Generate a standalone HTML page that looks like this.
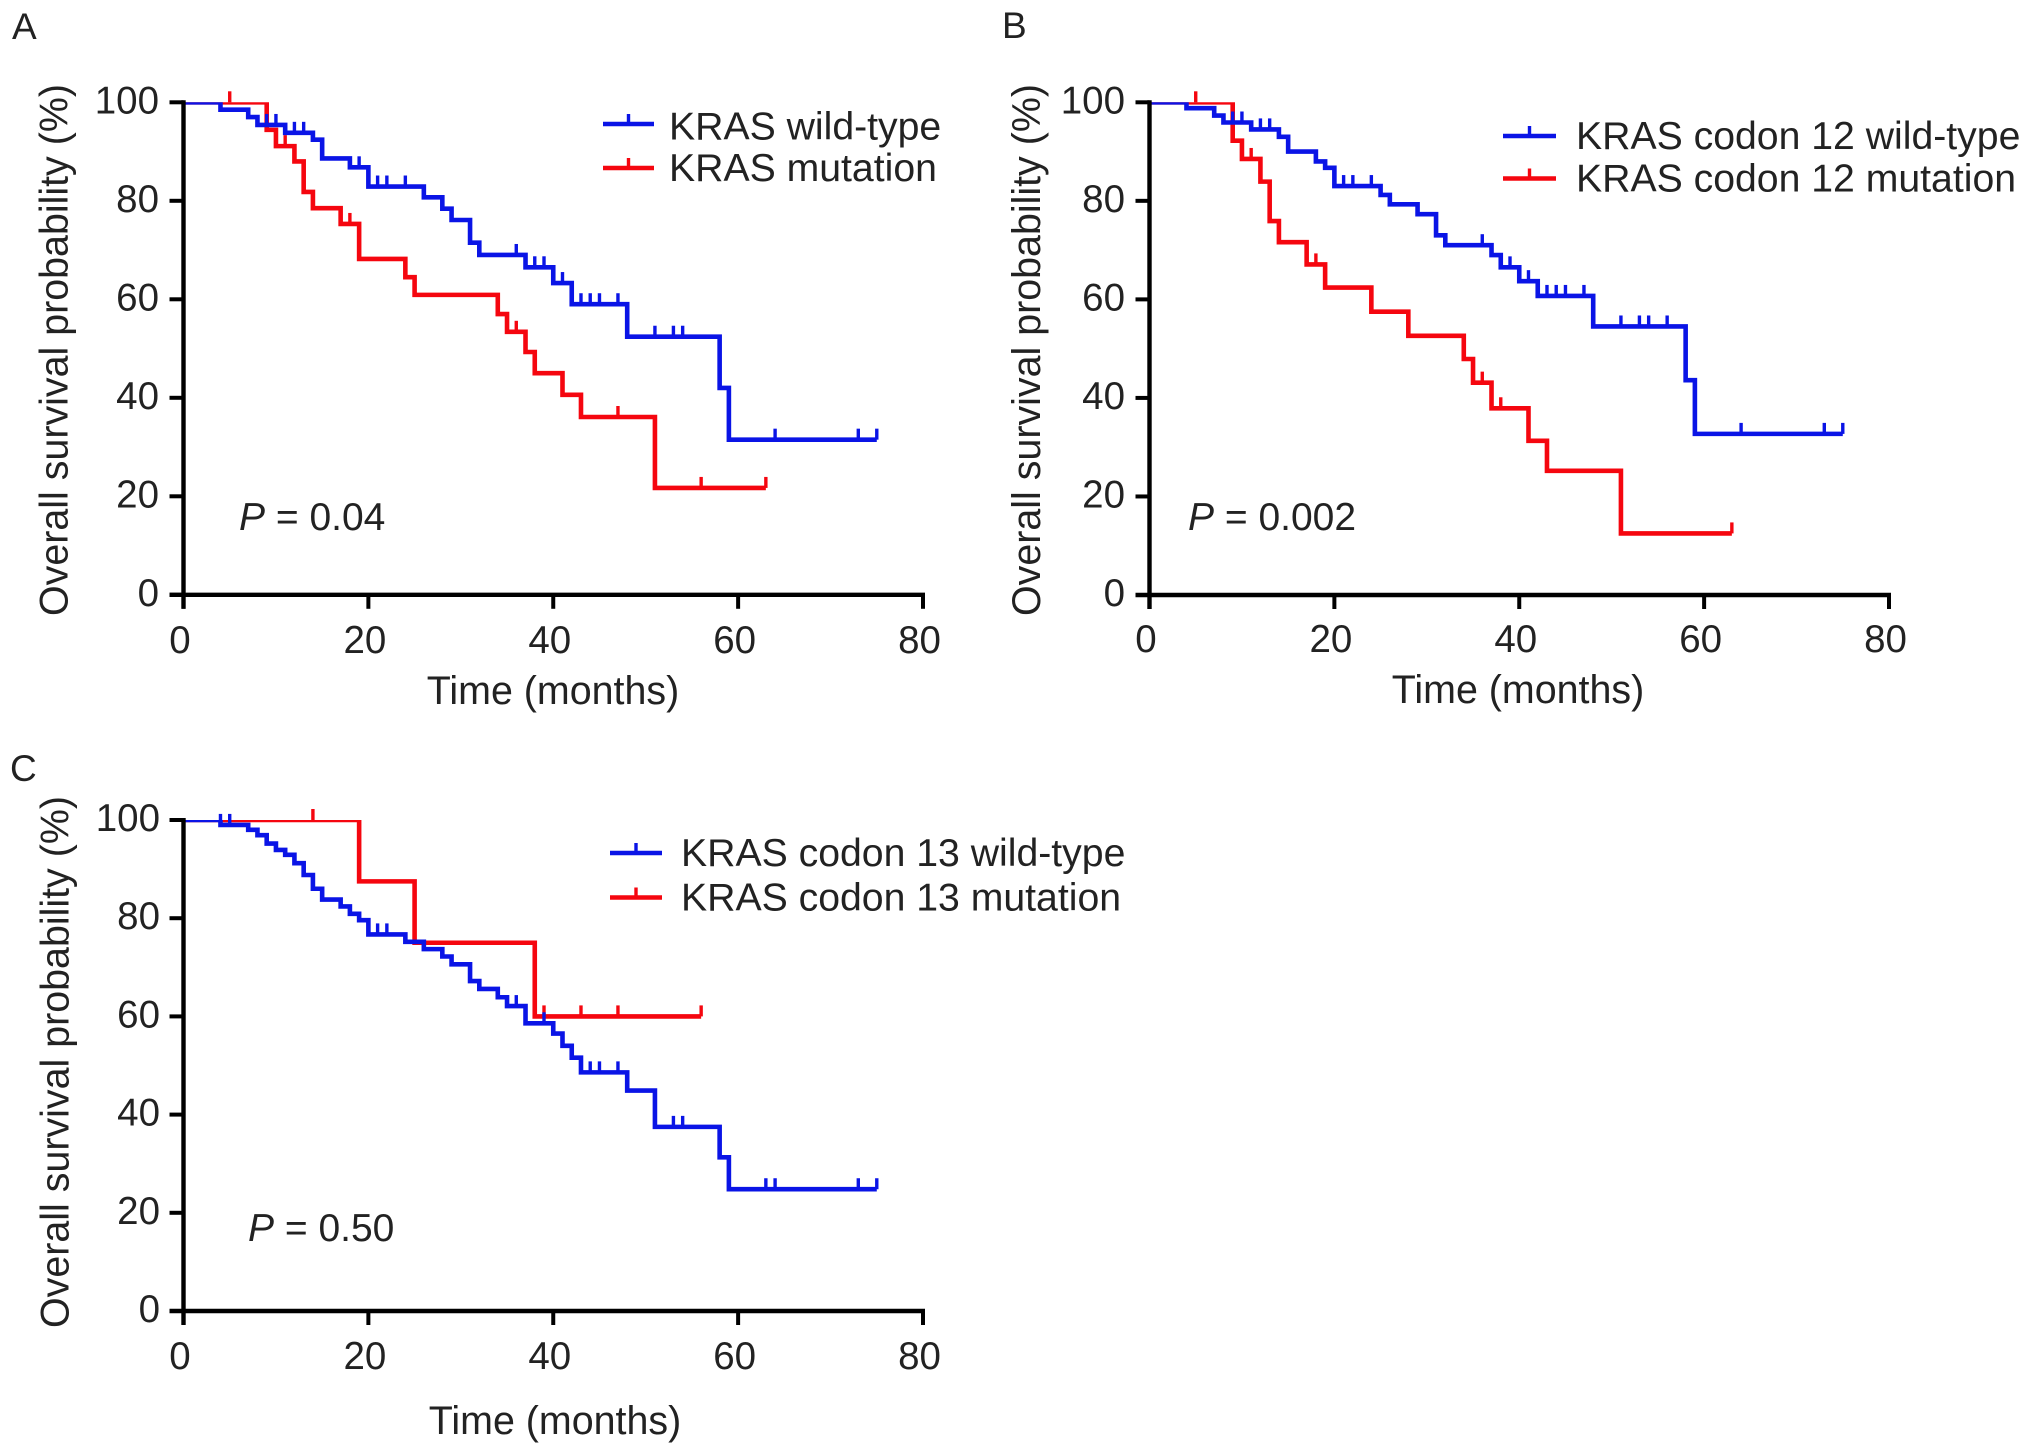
<!DOCTYPE html>
<html lang="en">
<head>
<meta charset="utf-8">
<title>Overall survival by KRAS status</title>
<style>
  html, body { margin: 0; padding: 0; background: #fff; }
  svg { display: block; }
  text { font-family: "Liberation Sans", sans-serif; fill: #222; }
</style>
</head>
<body>
<svg id="figure" xmlns="http://www.w3.org/2000/svg" width="2031" height="1455" viewBox="0 0 2031 1455">
  <rect x="0" y="0" width="2031" height="1455" fill="#fff"/>
  <defs id="clip-defs"></defs>
  <text x="12" y="39" font-size="37">A</text>
  <text x="1002" y="38" font-size="37">B</text>
  <text x="10" y="781" font-size="37">C</text>
  <g id="panel-a"></g>
  <g id="panel-b"></g>
  <g id="panel-c"></g>
</svg>
<script>
// ---- Shared axis ticks ----
const xTickLabels = [0, 20, 40, 60, 80];
const yTickLabels = [0, 20, 40, 60, 80, 100];

// ---- Panel A data ----
const aWildTimes = [0, 4, 7, 8, 11, 14, 15, 18, 20, 26, 28, 29, 31, 32, 37, 40, 42, 48, 58, 59, 75];
const aWildSurvival = [100, 98.5, 97, 95.4, 93.8, 92.4, 88.6, 86.8, 82.9, 80.7, 78.4, 76.1, 71.5, 69, 66.5, 63.3, 59, 52.4, 42, 31.5, 31.5];
const aWildCensored = [9, 10, 12, 13, 19, 21, 22, 24, 36, 38, 39, 41, 43, 44, 45, 47, 51, 53, 54, 64, 73, 75];
const aMutTimes = [0, 9, 10, 12, 13, 14, 17, 19, 24, 25, 34, 35, 37, 38, 41, 43, 51, 63];
const aMutSurvival = [100, 94.4, 91.1, 88, 81.8, 78.5, 75.3, 68.2, 64.5, 60.9, 57, 53.4, 49.3, 45, 40.6, 36.1, 21.7, 21.7];
const aMutCensored = [5, 11, 18, 36, 47, 56, 63];

// ---- Panel B data ----
const bWildTimes = [0, 4, 7, 8, 11, 14, 15, 18, 19, 20, 25, 26, 29, 31, 32, 37, 38, 40, 42, 48, 58, 59, 75];
const bWildSurvival = [100, 98.8, 97.3, 95.9, 94.5, 93, 90, 88, 86.7, 83, 81.2, 79.3, 77.3, 73, 71, 69, 66.5, 63.7, 60.7, 54.5, 43.6, 32.7, 32.7];
const bWildCensored = [9, 10, 12, 13, 21, 22, 24, 36, 39, 41, 43, 44, 45, 47, 51, 53, 54, 56, 64, 73, 75];
const bMutTimes = [0, 9, 10, 12, 13, 14, 17, 19, 24, 28, 34, 35, 37, 41, 43, 51, 63];
const bMutSurvival = [100, 92.2, 88.5, 83.9, 75.9, 71.6, 67.1, 62.4, 57.5, 52.6, 47.9, 43.1, 37.9, 31.3, 25.2, 12.5, 12.5];
const bMutCensored = [5, 11, 18, 36, 38, 63];

// ---- Panel C data ----
const cWildTimes = [0, 4, 7, 8, 9, 10, 11, 12, 13, 14, 15, 17, 18, 19, 20, 24, 26, 28, 29, 31, 32, 34, 35, 37, 40, 41, 42, 43, 48, 51, 58, 59, 75];
const cWildSurvival = [100, 99, 98, 96.9, 95.2, 93.9, 92.9, 91.2, 88.8, 86, 83.8, 82.4, 80.9, 79.6, 76.7, 75.2, 73.7, 72.2, 70.6, 67.2, 65.6, 63.9, 62.1, 58.6, 56.5, 54, 51.6, 48.6, 44.9, 37.5, 31.3, 24.8, 24.8];
const cWildCensored = [4, 5, 21, 22, 36, 39, 44, 45, 47, 53, 54, 63, 64, 73, 75];
const cMutTimes = [0, 19, 25, 38, 56];
const cMutSurvival = [100, 87.5, 75, 60, 60];
const cMutCensored = [14, 39, 43, 47, 56];

const BLUE = '#0a14e6';
const RED = '#f5060f';
const SVGNS = 'http://www.w3.org/2000/svg';

function make(tag, parent) {
  const el = document.createElementNS(SVGNS, tag);
  parent.appendChild(el);
  return el;
}

function survivalAt(times, values, t) {
  let v = values[0];
  for (let i = 0; i < times.length; i++) {
    if (times[i] <= t) v = values[i];
  }
  return v;
}

function drawSeries(root, xs, ys, times, values, censored, color, clipId, key) {
  let d = 'M' + xs(times[0]) + ' ' + ys(values[0]);
  for (let i = 1; i < times.length; i++) {
    d += 'H' + xs(times[i]) + 'V' + ys(values[i]);
  }
  const line = make('path', root);
  
  
  line.setAttribute('d', d);
  line.setAttribute('fill', 'none');
  line.setAttribute('stroke', color);
  line.setAttribute('stroke-width', '4.6');
  line.setAttribute('clip-path', 'url(#' + clipId + ')');
  censored.forEach(function (t) {
    const tick = make('line', root);
    
    
    const y = ys(survivalAt(times, values, t));
    tick.setAttribute('x1', xs(t));
    tick.setAttribute('x2', xs(t));
    tick.setAttribute('y1', y);
    tick.setAttribute('y2', y - 11);
    tick.setAttribute('stroke', color);
    tick.setAttribute('stroke-width', '3.4');
  });
}

function drawLegendEntry(root, p, y, textDy, label, color, key) {
  const line = make('line', root);
  
  
  line.setAttribute('x1', p.legendX1);
  line.setAttribute('x2', p.legendX2);
  line.setAttribute('y1', y);
  line.setAttribute('y2', y);
  line.setAttribute('stroke', color);
  line.setAttribute('stroke-width', '4.6');
  const tick = make('line', root);
  
  
  const mid = (p.legendX1 + p.legendX2) / 2;
  tick.setAttribute('x1', mid);
  tick.setAttribute('x2', mid);
  tick.setAttribute('y1', y);
  tick.setAttribute('y2', y - 10);
  tick.setAttribute('stroke', color);
  tick.setAttribute('stroke-width', '3.4');
  const text = make('text', root);
  
  
  text.setAttribute('x', p.legendTextX);
  text.setAttribute('y', y + textDy);
  text.setAttribute('font-size', '39.2');
  text.textContent = label;
}

function drawPanel(p) {
  const root = document.getElementById(p.id);
  const xs = function (v) { return p.x0 + (v / 80) * (p.x80 - p.x0); };
  const ys = function (v) { return p.y0 - (v / 100) * (p.y0 - p.y100); };

  const clipId = p.id + '-clip';
  const clip = make('clipPath', document.getElementById('clip-defs'));
  clip.setAttribute('id', clipId);
  const clipRect = make('rect', clip);
  clipRect.setAttribute('x', xs(0));
  clipRect.setAttribute('y', ys(100));
  clipRect.setAttribute('width', xs(80) - xs(0) + 20);
  clipRect.setAttribute('height', ys(0) - ys(100));

  // Series sit under the axes
  drawSeries(root, xs, ys, p.mut.times, p.mut.values, p.mut.censored, RED, clipId, 'mutation');
  drawSeries(root, xs, ys, p.wild.times, p.wild.values, p.wild.censored, BLUE, clipId, 'wild-type');

  const xAxis = make('line', root);
  
  
  xAxis.setAttribute('x1', xs(0) - 14);
  xAxis.setAttribute('x2', xs(80) + 2);
  xAxis.setAttribute('y1', ys(0));
  xAxis.setAttribute('y2', ys(0));
  xAxis.setAttribute('stroke', '#000');
  xAxis.setAttribute('stroke-width', '4.4');

  const yAxis = make('line', root);
  
  
  yAxis.setAttribute('x1', xs(0));
  yAxis.setAttribute('x2', xs(0));
  yAxis.setAttribute('y1', ys(100) - 2);
  yAxis.setAttribute('y2', ys(0) + 14);
  yAxis.setAttribute('stroke', '#000');
  yAxis.setAttribute('stroke-width', '4.4');

  xTickLabels.forEach(function (v) {
    const tick = make('line', root);
    
    
    tick.setAttribute('x1', xs(v));
    tick.setAttribute('x2', xs(v));
    tick.setAttribute('y1', ys(0));
    tick.setAttribute('y2', ys(0) + 14);
    tick.setAttribute('stroke', '#000');
    tick.setAttribute('stroke-width', '4');
    const label = make('text', root);
    
    
    label.setAttribute('x', xs(v) - 3.5);
    label.setAttribute('y', p.xLabelBaseline);
    label.setAttribute('font-size', '38.5');
    label.setAttribute('text-anchor', 'middle');
    label.textContent = String(v);
  });

  yTickLabels.forEach(function (v) {
    const tick = make('line', root);
    
    
    tick.setAttribute('x1', xs(0) - 14);
    tick.setAttribute('x2', xs(0));
    tick.setAttribute('y1', ys(v));
    tick.setAttribute('y2', ys(v));
    tick.setAttribute('stroke', '#000');
    tick.setAttribute('stroke-width', '4');
    const label = make('text', root);
    
    
    label.setAttribute('x', p.yLabelRight);
    label.setAttribute('y', ys(v) + 11);
    label.setAttribute('font-size', '38.5');
    label.setAttribute('text-anchor', 'end');
    label.textContent = String(v);
  });

  const xTitle = make('text', root);
  
  
  xTitle.setAttribute('x', p.xTitleX);
  xTitle.setAttribute('y', p.xTitleY);
  xTitle.setAttribute('font-size', '39.4');
  xTitle.setAttribute('text-anchor', 'middle');
  xTitle.textContent = 'Time (months)';

  const yTitle = make('text', root);
  
  
  yTitle.setAttribute('transform', 'translate(' + p.yTitleX + ' ' + p.yTitleY + ') rotate(-90)');
  yTitle.setAttribute('font-size', '39.4');
  yTitle.setAttribute('text-anchor', 'middle');
  yTitle.textContent = 'Overall survival probability (%)';

  const pValue = make('text', root);
  
  
  pValue.setAttribute('x', p.pX);
  pValue.setAttribute('y', p.pY);
  pValue.setAttribute('font-size', '39');
  const pItalic = make('tspan', pValue);
  pItalic.setAttribute('font-style', 'italic');
  pItalic.textContent = 'P';
  const pRest = make('tspan', pValue);
  pRest.textContent = ' = ' + p.pText;

  drawLegendEntry(root, p, p.legendY1, p.legendDy1, p.wild.label, BLUE, 'wild-type');
  drawLegendEntry(root, p, p.legendY2, p.legendDy2, p.mut.label, RED, 'mutation');
}

drawPanel({
  id: 'panel-a', x0: 183.5, x80: 923, y0: 594.8, y100: 102.3,
  xLabelBaseline: 653, yLabelRight: 159,
  xTitleX: 553, xTitleY: 704, yTitleX: 67.5, yTitleY: 350,
  pX: 239, pY: 530, pText: '0.04',
  legendX1: 603, legendX2: 654, legendY1: 124, legendY2: 168, legendTextX: 669, legendDy1: 15.5, legendDy2: 13,
  wild: { times: aWildTimes, values: aWildSurvival, censored: aWildCensored, label: 'KRAS wild-type' },
  mut: { times: aMutTimes, values: aMutSurvival, censored: aMutCensored, label: 'KRAS mutation' }
});

drawPanel({
  id: 'panel-b', x0: 1149.5, x80: 1889, y0: 595, y100: 102.3,
  xLabelBaseline: 652, yLabelRight: 1125,
  xTitleX: 1518, xTitleY: 703, yTitleX: 1040, yTitleY: 350,
  pX: 1188, pY: 530, pText: '0.002',
  legendX1: 1503, legendX2: 1556, legendY1: 136, legendY2: 178.5, legendTextX: 1576, legendDy1: 13, legendDy2: 13,
  wild: { times: bWildTimes, values: bWildSurvival, censored: bWildCensored, label: 'KRAS codon 12 wild-type' },
  mut: { times: bMutTimes, values: bMutSurvival, censored: bMutCensored, label: 'KRAS codon 12 mutation' }
});

drawPanel({
  id: 'panel-c', x0: 183.5, x80: 923, y0: 1311, y100: 820,
  xLabelBaseline: 1369, yLabelRight: 160,
  xTitleX: 555, xTitleY: 1434, yTitleX: 68.5, yTitleY: 1062,
  pX: 248, pY: 1241, pText: '0.50',
  legendX1: 610, legendX2: 662, legendY1: 853, legendY2: 897.5, legendTextX: 681, legendDy1: 13, legendDy2: 13,
  wild: { times: cWildTimes, values: cWildSurvival, censored: cWildCensored, label: 'KRAS codon 13 wild-type' },
  mut: { times: cMutTimes, values: cMutSurvival, censored: cMutCensored, label: 'KRAS codon 13 mutation' }
});
</script>
</body>
</html>
